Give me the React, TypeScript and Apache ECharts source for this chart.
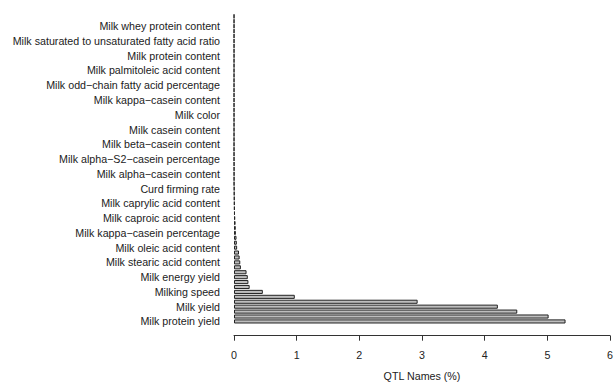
import React, { useEffect, useRef } from "react";
import * as echarts from "echarts";

// Categories from bottom (index 0) to top; only every third name is legible in the reference
const qtlNames: string[] = [
  "Milk protein yield", "", "",
  "Milk yield", "", "",
  "Milking speed", "", "",
  "Milk energy yield", "", "",
  "Milk stearic acid content", "", "",
  "Milk oleic acid content", "", "",
  "Milk kappa\u2212casein percentage", "", "",
  "Milk caproic acid content", "", "",
  "Milk caprylic acid content", "", "",
  "Curd firming rate", "", "",
  "Milk alpha\u2212casein content", "", "",
  "Milk alpha\u2212S2\u2212casein percentage", "", "",
  "Milk beta\u2212casein content", "", "",
  "Milk casein content", "", "",
  "Milk color", "", "",
  "Milk kappa\u2212casein content", "", "",
  "Milk odd\u2212chain fatty acid percentage", "", "",
  "Milk palmitoleic acid content", "", "",
  "Milk protein content", "", "",
  "Milk saturated to unsaturated fatty acid ratio", "", "",
  "Milk whey protein content", "", "",
];

// Percentages, same order as qtlNames (bottom to top)
const qtlPercent: number[] = [
  5.29, 5.02, 4.52,
  4.21, 2.93, 0.97,
  0.46, 0.25, 0.23,
  0.22, 0.2, 0.11,
  0.1, 0.09, 0.08,
  0.05, 0.045, 0.04,
  0.03, 0.028, 0.025,
  0.02, 0.015, 0.012,
  0.01, 0.008, 0.006,
  0.005, 0.002, 0.002,
  0.002, 0.002, 0.002,
  0.001, 0.001, 0.001,
  0.001, 0.001, 0.001,
  0.001, 0.001, 0.001,
  0.001, 0.001, 0.001,
  0.001, 0.001, 0.001,
  0.001, 0.001, 0.001,
  0.001, 0.001, 0.001,
  0.001, 0.001, 0.001,
  0.001, 0.001, 0.001,
  0.001, 0.001, 0.001,
];

const xTicks = { min: 0, max: 6, interval: 1 };

export default function App() {
  const ref = useRef<HTMLDivElement>(null);
  useEffect(() => {
    document.body.style.margin = "0";
    if (!ref.current) return;
    const chart = echarts.init(ref.current, null, { renderer: "svg" });
    const font = "'Liberation Sans', Arial, Helvetica, sans-serif";
    chart.setOption({
      animation: false,
      backgroundColor: "#ffffff",
      grid: { left: 234, right: 3, top: 13.9, bottom: 65.1, containLabel: false },
      xAxis: {
        type: "value",
        min: xTicks.min,
        max: xTicks.max,
        interval: xTicks.interval,
        offset: 11.8,
        name: "QTL Names (%)",
        nameLocation: "middle",
        nameGap: 35,
        nameTextStyle: { fontFamily: font, fontSize: 10.7, color: "#222" },
        axisLine: { show: true, lineStyle: { color: "#333", width: 1 } },
        axisTick: { show: true, length: 5, lineStyle: { color: "#333" } },
        axisLabel: { fontFamily: font, fontSize: 10.7, color: "#222", margin: 14 },
        splitLine: { show: false },
      },
      yAxis: {
        type: "category",
        data: qtlNames,
        axisLine: { show: false },
        axisTick: { show: false },
        axisLabel: {
          interval: (i: number) => i % 3 === 0,
          fontFamily: font,
          fontSize: 10.7,
          color: "#222",
          margin: 14,
        },
        splitLine: { show: false },
      },
      series: [
        {
          type: "bar",
          data: qtlPercent,
          barCategoryGap: "16.67%",
          itemStyle: { color: "#BEBEBE", borderColor: "#222", borderWidth: 1 },
          emphasis: { disabled: true },
        },
      ],
    });
    return () => chart.dispose();
  }, []);
  return <div ref={ref} style={{ width: 616, height: 389 }} />;
}
